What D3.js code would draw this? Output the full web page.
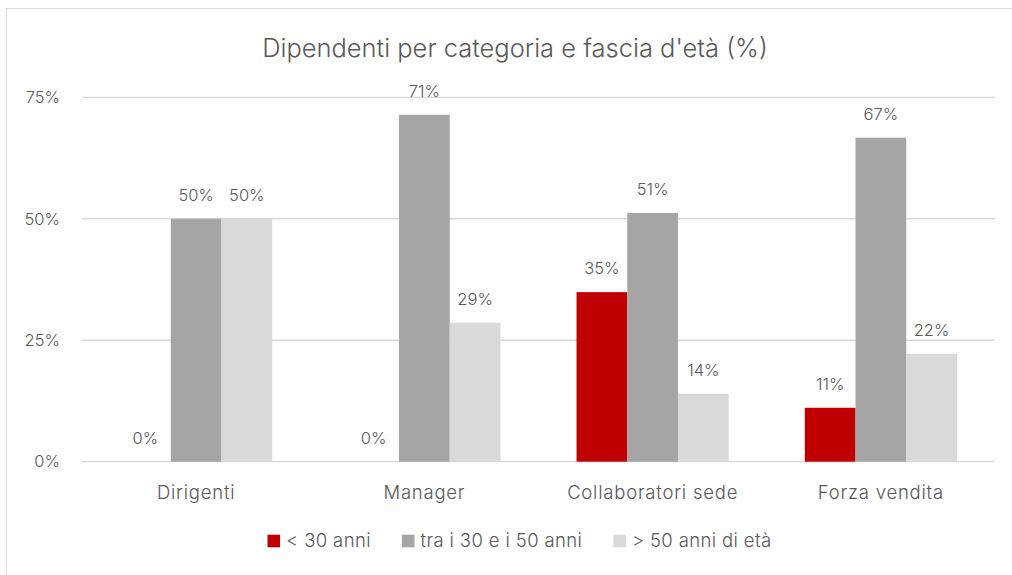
<!DOCTYPE html>
<html><head><meta charset="utf-8">
<script src="https://cdn.jsdelivr.net/npm/d3@7"></script>
<style>
html,body{margin:0;padding:0;background:#fff;}
text{font-family:Inter, "Open Sans", sans-serif;font-weight:300;fill:#595959;}
</style></head>
<body><svg id="c" width="1012" height="575"></svg>
<script>
const title = "Dipendenti per categoria e fascia d'età (%)";
const categories = ["Dirigenti","Manager","Collaboratori sede","Forza vendita"];
const seriesNames = ["< 30 anni","tra i 30 e i 50 anni","> 50 anni di età"];
const seriesColors = ["#C00000","#A5A5A5","#D9D9D9"];
const under30 = [0, 0, 34.9, 11.1];
const between30_50 = [50, 71.4, 51.2, 66.7];
const over50 = [50, 28.6, 14.0, 22.2];
const yTicks = [0, 25, 50, 75];

(function(){
const series = [under30, between30_50, over50];
const svg = d3.select("#c");

svg.append("rect").attr("x",6.5).attr("y",8.5).attr("width",1020).attr("height",600)
  .attr("fill","none").attr("stroke","#D9D9D9").attr("stroke-width",1);

const pL=82, pR=995, pT=97.3, pB=461.7;
const x = d3.scaleBand().domain(categories).range([pL,pR]);
const y = d3.scaleLinear().domain([0,75]).range([pB,pT]);

svg.append("g").selectAll("line").data(yTicks).join("line")
  .attr("x1",pL).attr("x2",pR).attr("y1",d=>y(d)).attr("y2",d=>y(d))
  .attr("stroke","#D9D9D9").attr("stroke-width",1.3);

const yAxis = d3.axisLeft(y).tickValues(yTicks).tickFormat(d=>d+"%").tickSize(0).tickPadding(0);
const ya = svg.append("g").attr("transform",`translate(60,0)`).call(yAxis);
ya.select(".domain").remove();
ya.selectAll("text").style("font-size","16.5px").style("font-family","Inter, sans-serif").style("font-weight",300).attr("fill","#595959");

const bw = x.bandwidth()/4.5;
const groups = svg.append("g").selectAll("g").data(categories).join("g")
  .attr("transform",d=>`translate(${x(d)},0)`);
series.forEach((vals,si)=>{
  groups.append("rect")
    .attr("x",(d,i)=>x.bandwidth()/2 - 1.5*bw + si*bw)
    .attr("width",bw)
    .attr("y",(d,i)=>y(vals[i]))
    .attr("height",(d,i)=>pB-y(vals[i]))
    .attr("fill",seriesColors[si]);
  groups.append("text")
    .attr("x",(d,i)=>x.bandwidth()/2 - 1.5*bw + si*bw + bw/2)
    .attr("y",(d,i)=>y(vals[i]) - 18)
    .attr("text-anchor","middle")
    .style("font-size","16.5px")
    .text((d,i)=>Math.round(vals[i])+"%");
});

const xAxis = d3.axisBottom(x).tickSize(0).tickPadding(0);
const xa = svg.append("g").attr("transform",`translate(0,${pB+24})`).call(xAxis);
xa.select(".domain").remove();
xa.selectAll("text").style("font-size","18.5px").style("letter-spacing","0.78px")
  .style("font-family","Inter, sans-serif").style("font-weight",300).attr("fill","#595959").attr("dy","0.71em");

const t = svg.append("text").attr("x",515).attr("y",57).attr("text-anchor","middle")
  .style("font-size","23px").text(title);
const tw = t.node().getComputedTextLength();
t.style("font-size",(23*506/tw)+"px");

const lg = svg.append("g");
let cx = 0;
seriesNames.forEach((n,i)=>{
  const g = lg.append("g").attr("transform",`translate(${cx},0)`);
  g.append("rect").attr("x",0).attr("y",-6.3).attr("width",12.6).attr("height",12.6).attr("fill",seriesColors[i]);
  const tx = g.append("text").attr("x",18.6).attr("y",0).attr("dy","0.35em")
    .style("font-size","18.5px").style("letter-spacing","0.38px").text(n);
  cx += 18.6 + tx.node().getComputedTextLength() + 31;
});
const totalW = cx - 31;
lg.attr("transform",`translate(${519.5 - totalW/2},541)`);
})();
</script></body></html>
